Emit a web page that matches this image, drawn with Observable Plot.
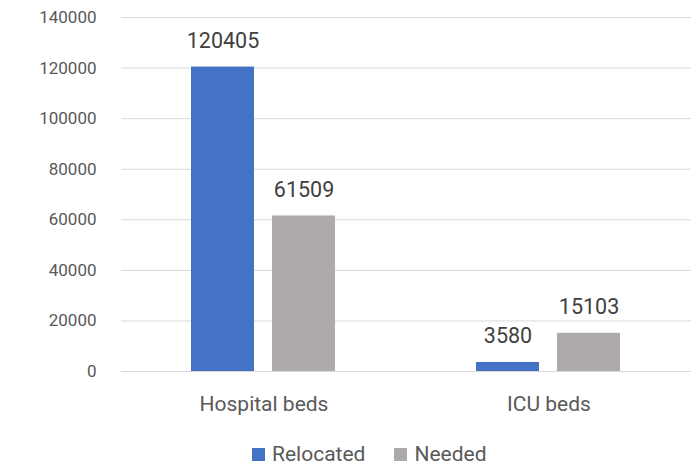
<!DOCTYPE html>
<html>
<head>
<meta charset="utf-8">
<script src="https://cdn.jsdelivr.net/npm/d3@7"></script>
<script src="https://cdn.jsdelivr.net/npm/@observablehq/plot@0.6"></script>
<style>
  body { margin: 0; background: #fff; font-family: Roboto, sans-serif; }
  #legend { display: flex; justify-content: flex-start; align-items: center; padding-left: 252px; padding-top: 17px; color: #595959; font-size: 21px; font-family: Roboto, sans-serif; }
  #legend .item { display: flex; align-items: center; gap: 7px; margin-right: 29px; }
  #legend .sw { width: 13px; height: 13px; display: inline-block; }
</style>
</head>
<body>
<div id="chart"></div>
<div id="legend"></div>
<script>
const categories = ["Hospital beds", "ICU beds"];
const series = ["Relocated", "Needed"];
const relocated = [120405, 3580];
const needed = [61509, 15103];
const colors = ["#4472C4", "#AEAAAA"];
const yTicks = [0, 20000, 40000, 60000, 80000, 100000, 120000, 140000];

const data = [];
categories.forEach((c, i) => {
  data.push({category: c, series: "Relocated", value: relocated[i]});
  data.push({category: c, series: "Needed", value: needed[i]});
});

const plot = Plot.plot({
  width: 698,
  height: 425,
  marginLeft: 121,
  marginRight: 7,
  marginTop: 17,
  marginBottom: 54,
  style: {fontFamily: "Roboto, sans-serif", fontSize: "17px", color: "#595959", background: "#fff"},
  fx: {domain: categories, padding: 0, axis: "bottom", tickSize: 0, tickPadding: 25, label: null},
  x: {domain: series, axis: null, paddingInner: 0.221, paddingOuter: 0.859},
  y: {domain: [0, 140000], ticks: yTicks, tickSize: 0, tickPadding: 25, label: null, tickFormat: d => String(d)},
  color: {domain: series, range: colors},
  marks: [
    Plot.ruleY(yTicks, {stroke: "#D9D9D9", strokeWidth: 1}),
    Plot.barY(data, {fx: "category", x: "series", y: "value", fill: "series"}),
    Plot.text(data, {fx: "category", x: "series", y: "value", text: d => String(d.value), dy: -26, fill: "#404040", fontSize: 21.5})
  ]
});
plot.querySelectorAll("g[aria-label='fx-axis tick label'] text").forEach(t => t.setAttribute("font-size", "21"));
document.getElementById("chart").appendChild(plot);

const legend = document.getElementById("legend");
series.forEach((s, i) => {
  const item = document.createElement("div");
  item.className = "item";
  const sw = document.createElement("span");
  sw.className = "sw";
  sw.style.background = colors[i];
  const label = document.createElement("span");
  label.textContent = s;
  item.appendChild(sw);
  item.appendChild(label);
  legend.appendChild(item);
});
</script>
</body>
</html>
